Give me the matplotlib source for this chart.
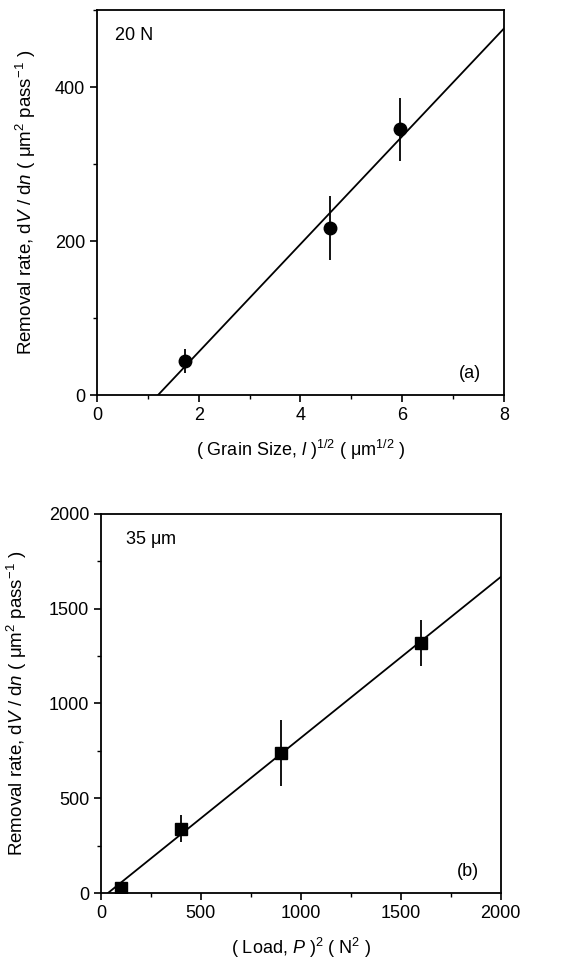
import numpy as np
import matplotlib.pyplot as plt
from matplotlib.ticker import MultipleLocator

# (a) removal rate vs square root of grain size, 20 N
grain_x = [1.73, 4.58, 5.95]
grain_y = [44, 217, 345]
grain_err = [16, 41, 41]
grain_fit_x = [1.2, 8.0]
grain_fit_y = [0, 476]

# (b) removal rate vs load squared, 35 um
load_x = [100, 400, 900, 1600]
load_y = [25, 340, 740, 1320]
load_err = [20, 72, 175, 120]
load_fit_x = [35, 2000]
load_fit_y = [0, 1668]

plt.rcParams['font.family'] = ['Liberation Sans', 'DejaVu Sans']
plt.rcParams['mathtext.fontset'] = 'custom'
plt.rcParams['mathtext.rm'] = 'Liberation Sans'
plt.rcParams['mathtext.it'] = 'Liberation Sans:italic'

fig = plt.figure(figsize=(5.82, 9.67), dpi=100)
ax1 = fig.add_axes([0.1667, 0.5915, 0.699, 0.398])
ax2 = fig.add_axes([0.1735, 0.0765, 0.687, 0.392])

ylab = r'Removal rate, d$\it{V}$ / d$\it{n}$ ( $\mathrm{\mu m^2}$ pass$^{-1}$ )'


def style(ax):
    for s in ax.spines.values():
        s.set_linewidth(1.3)
    ax.tick_params(which='major', direction='out', length=5, width=1.2, labelsize=13)
    ax.tick_params(which='minor', direction='out', length=3, width=1.0)


ax1.plot(grain_fit_x, grain_fit_y, color='black', lw=1.3)
ax1.errorbar(grain_x, grain_y, yerr=grain_err, fmt='o', color='black',
             ms=9, elinewidth=1.3, capsize=0)
ax1.set_xlim(0, 8)
ax1.set_ylim(0, 500)
ax1.set_xticks([0, 2, 4, 6, 8])
ax1.set_yticks([0, 200, 400])
ax1.xaxis.set_minor_locator(MultipleLocator(1))
ax1.yaxis.set_minor_locator(MultipleLocator(100))
style(ax1)
ax1.set_ylabel(ylab, fontsize=13.5, labelpad=12)
ax1.set_xlabel(r'( Grain Size, $\it{l}$ )$^{1/2}$ ( $\mathrm{\mu m^{1/2}}$ )', fontsize=13, labelpad=10)
ax1.text(0.045, 0.955, '20 N', transform=ax1.transAxes, fontsize=13, va='top')
ax1.text(0.945, 0.035, '(a)', transform=ax1.transAxes, fontsize=13, ha='right', va='bottom')

ax2.plot(load_fit_x, load_fit_y, color='black', lw=1.3)
ax2.errorbar(load_x, load_y, yerr=load_err, fmt='s', color='black',
             ms=8.5, elinewidth=1.3, capsize=0)
ax2.set_xlim(0, 2000)
ax2.set_ylim(0, 2000)
ax2.set_xticks([0, 500, 1000, 1500, 2000])
ax2.set_yticks([0, 500, 1000, 1500, 2000])
ax2.xaxis.set_minor_locator(MultipleLocator(250))
ax2.yaxis.set_minor_locator(MultipleLocator(250))
style(ax2)
ax2.set_ylabel(ylab, fontsize=13.5, labelpad=14)
ax2.set_xlabel(r'( Load, $\it{P}$ )$^2$ ( N$^2$ )', fontsize=13, labelpad=10)
ax2.text(0.06, 0.96, r'35 $\mathrm{\mu m}$', transform=ax2.transAxes, fontsize=13, va='top')
ax2.text(0.945, 0.035, '(b)', transform=ax2.transAxes, fontsize=13, ha='right', va='bottom')

fig.savefig('out.png', dpi=100)
